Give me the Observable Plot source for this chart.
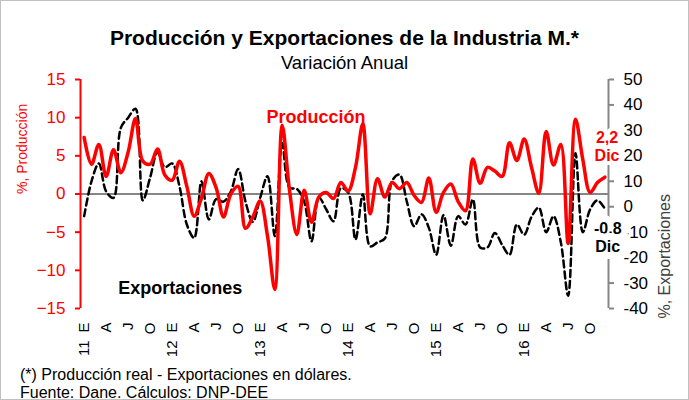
<!DOCTYPE html>
<html>
<head>
<meta charset="utf-8">
<script src="https://cdn.jsdelivr.net/npm/d3@7"></script>
<script src="https://cdn.jsdelivr.net/npm/@observablehq/plot@0.6"></script>
<style>
  body { margin: 0; background: #fff; font-family: "Liberation Sans", Arial, sans-serif; }
  #wrap { position: relative; width: 689px; height: 400px; overflow: hidden; box-shadow: inset 0 0 0 1px #c0c0c0; }
  #title { position: absolute; left: 0; width: 689px; top: 26px; text-align: center; font-weight: bold; font-size: 21px; line-height: 24px; color: #000; }
  #sub { position: absolute; left: 0; width: 689px; top: 52px; text-align: center; font-size: 18.5px; line-height: 22px; color: #000; }
  #chart { position: absolute; left: 0; top: 70px; }
  #foot { position: absolute; left: 20px; top: 366px; font-size: 16px; line-height: 18px; color: #000; }
</style>
</head>
<body>
<div id="wrap">
  <div id="title">Producción y Exportaciones de la Industria M.*</div>
  <div id="sub">Variación Anual</div>
  <div id="chart"></div>
  <div id="foot">(*) Producción real - Exportaciones en dólares.<br>Fuente: Dane. Cálculos: DNP-DEE</div>
</div>
<script>
// Month initials (E=Enero ... D=Diciembre) and year labels
const months = ["E","F","M","A","M","J","J","A","S","O","N","D"];
const years = ["11","12","13","14","15","16"];

// Producción real, variación anual (%), ene-2011 .. dic-2016
const produccion = [
  7.4, 3.9, 6.5, 2.3, 5.8, 2.8, 5.5, 9.9, 4.3, 3.9, 5.9, 2.5,
  1.8, 4.3, 1.0, -2.9, -0.5, 2.7, 0.8, -3.0, 0.0, 1.0, -4.5, -3.0,
  -0.9, -5.5, -12.5, 9.0, 0.5, -5.3, 0.5, -3.7, -0.4, 0.2, -0.6, 1.5,
  0.4, 3.5, 9.2, -2.6, 2.0, -0.4, 1.5, 0.7, 1.5, -0.2, -1.1, 2.1,
  -2.4, 0.2, 1.3, -1.0, -2.2, 4.6, 1.4, 3.5, 3.0, 2.3, 6.7, 4.4,
  7.2, 3.5, 0.1, 8.2, 3.8, 6.5, -6.5, 9.8, 4.5, 0.2, 1.5, 2.2
];

// Exportaciones en dólares, variación anual (%), ene-2011 .. dic-2016
const exportaciones = [
  -3.7, 10, 17, 6, 3.5, 31, 35, 38.5, 2.5, 11.5, 21.4, 15.5,
  17, 8, -7, -12.3, 10, -5, 3, 2, 6, 14.8, 2, -6,
  3.5, 12, -11.6, 25, 7.5, 7, 2, -13.6, 3.6, -1, -5.7, 7.3,
  5.6, -12.9, 4.9, -15.6, -14, -12.5, 10.2, 12.6, 2, -7.7, -3, -8.3,
  -18.9, -3.3, -15.3, -3.7, -7, 2.9, -16, -16, -10.3, -15, -18.9, -7,
  -11, -4, -0.3, -10, -3.7, -14, -35, 21, -10, -1, 2.5, -0.8
];

// Axis ticks
const leftTicks = [-15, -10, -5, 0, 5, 10, 15];
const rightTicks = [-40, -30, -20, -10, 0, 10, 20, 30, 40, 50];
const leftDomain = [-15, 15];
const rightDomain = [-40, 50];

const RED = "#FF0000";
const GRAY = "#868686";
const n = produccion.length;

// map right-axis values onto the left scale
const toLeft = e => leftDomain[0] + (e - rightDomain[0]) * (leftDomain[1] - leftDomain[0]) / (rightDomain[1] - rightDomain[0]);
const toRight = p => rightDomain[0] + (p - leftDomain[0]) * (rightDomain[1] - rightDomain[0]) / (leftDomain[1] - leftDomain[0]);

const rows = produccion.map((p, i) => ({i, p, e: toLeft(exportaciones[i])}));
const monthTicks = d3.range(0, n, 3);
const yearTicks = d3.range(0, n, 12);
const fmt = v => v.toFixed(1).replace(".", ",");

const lastP = produccion[n - 1];
const lastE = exportaciones[n - 1];

const chart = Plot.plot({
  width: 689,
  height: 290,
  marginLeft: 80,
  marginRight: 81,
  marginTop: 9,
  marginBottom: 52,
  x: {domain: [-0.5, n - 0.5], axis: null},
  y: {domain: leftDomain, axis: null},
  style: {fontFamily: "'Liberation Sans', Arial, sans-serif", background: "transparent", overflow: "visible", color: "#000"},
  marks: [
    Plot.ruleY([0], {stroke: GRAY, strokeWidth: 2}),
    Plot.line(rows, {x: "i", y: "e", stroke: "#000", strokeWidth: 2.5, strokeDasharray: "7,4", curve: "catmull-rom"}),
    Plot.line(rows, {x: "i", y: "p", stroke: RED, strokeWidth: 3.5, curve: "catmull-rom"}),
    Plot.ruleX([-0.5], {y1: leftDomain[0], y2: leftDomain[1], stroke: RED, strokeWidth: 2}),
    Plot.ruleX([n - 0.5], {y1: leftDomain[0], y2: leftDomain[1], stroke: GRAY, strokeWidth: 2}),
    Plot.axisY({anchor: "left", ticks: leftTicks, tickSize: 5, tickPadding: 10, color: RED, strokeWidth: 2, fontSize: 17, label: null}),
    Plot.axisY({anchor: "right", ticks: rightTicks.map(toLeft), tickFormat: d => Math.round(toRight(d)), tickSize: 5, tickPadding: 10, stroke: GRAY, strokeWidth: 2, fill: "#000", fontSize: 17, label: null}),
    Plot.axisX({anchor: "bottom", ticks: monthTicks, tickFormat: i => months[i % 12], tickRotate: -90, tickSize: 0, tickPadding: 14, fontSize: 15, fill: "#000", label: null}),
    Plot.axisX({anchor: "bottom", ticks: yearTicks, tickFormat: i => years[Math.floor(i / 12)], tickRotate: -90, tickSize: 0, tickPadding: 32, fontSize: 15, fill: "#000", label: null}),
    Plot.text(["%, Producción"], {frameAnchor: "left", dx: -58, rotate: -90, fill: RED, fontSize: 14}),
    Plot.text(["%, Exportaciones"], {frameAnchor: "right", dx: 56, rotate: -90, fill: "#404040", fontSize: 16}),
    Plot.text(["Producción"], {x: [31.6], y: [10.0], fill: RED, fontSize: 18, fontWeight: "bold"}),
    Plot.text(["Exportaciones"], {x: [13.1], y: [-12.3], fill: "#000", fontSize: 18, fontWeight: "bold"}),
    Plot.text([`${fmt(lastP)}\nDic`], {x: [n - 1 + 0.3], y: [6.2], fill: RED, fontSize: 16, fontWeight: "bold", lineHeight: 1.125, stroke: "white", strokeWidth: 8, paintOrder: "stroke", strokeLinejoin: "round"}),
    Plot.text([`${fmt(lastE)}\nDic`], {x: [n - 1 + 0.4], y: [-5.7], fill: "#000", fontSize: 16, fontWeight: "bold", lineHeight: 1.125, stroke: "white", strokeWidth: 14, paintOrder: "stroke", strokeLinejoin: "round"})
  ]
});
document.getElementById("chart").appendChild(chart);
</script>
</body>
</html>
